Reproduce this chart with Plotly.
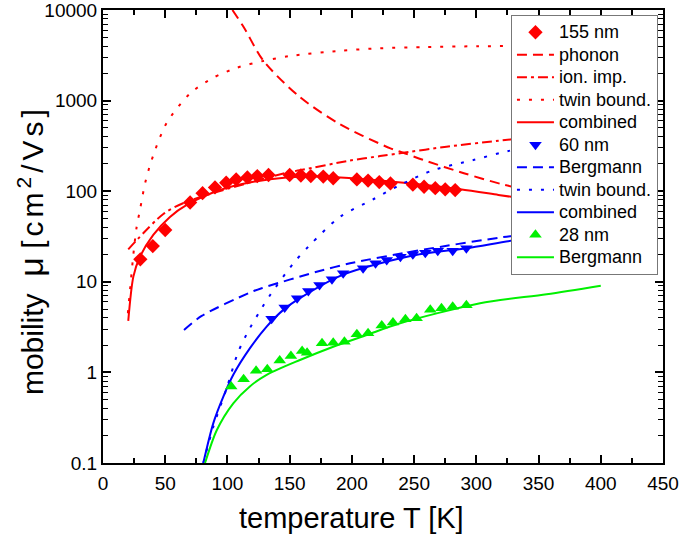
import plotly.graph_objects as go

# ---------------- data ----------------
# 155 nm sample (red diamonds)
T155 = [30, 40, 50, 70, 80, 90, 99, 107, 116, 124, 133, 150, 159, 167, 177, 185,
        204, 213, 222, 231, 249, 258, 267, 275, 283]
mu155 = [17.7, 24.8, 37.3, 75, 95, 110, 124, 135, 142, 147, 151, 151, 149, 147, 145, 139,
         135, 131, 126, 122, 118, 112, 108, 105, 103]

# 60 nm sample (blue down triangles)
T60 = [135.5, 146, 156, 165, 174, 184, 193, 209, 219, 228, 239, 249, 259, 269, 281, 292]
mu60 = [3.9, 5.2, 6.6, 7.9, 9.2, 10.7, 12.4, 14.1, 16.0, 17.4, 18.9, 20.1, 20.9, 22.0, 22.0, 23.4]

# 28 nm sample (green up triangles)
T28 = [103, 113, 123, 132, 142, 151, 160, 164, 176, 185, 194, 204, 213, 224, 233, 243,
       252, 263, 272, 281, 292]
mu28 = [0.70, 0.84, 1.04, 1.08, 1.35, 1.52, 1.72, 1.65, 2.1, 2.13, 2.18, 2.63, 2.7, 3.3, 3.55, 3.85,
        3.95, 4.9, 5.1, 5.3, 5.5]

# red model curves (155 nm)
T_phon = [104, 113, 129, 158, 190, 231, 239, 257, 290, 320, 340]
mu_phon = [10000, 6500, 2740, 1100, 552, 297, 273, 222, 158, 120, 104]

T_ion = [20.3, 48.5, 67.3, 147.6, 158, 198.5, 222.6, 238.7, 276, 317.6, 340]
mu_ion = [22.8, 56, 76.6, 160, 170, 218, 244, 262, 310, 360, 390]

T_twin_r = [20, 22, 24.4, 27, 29.7, 33.8, 39.1, 51, 70, 88.6, 107.4, 128.8, 150, 190.5, 222.6, 260, 300, 340]
mu_twin_r = [4.5, 9, 20, 40, 62, 122, 221, 562, 1200, 1790, 2300, 2740, 3100, 3550, 3780, 3900, 3980, 4000]

T_comb_r = [20.3, 24.4, 29.7, 40.4, 53.8, 67.3, 94, 120.8, 147.6, 174.4, 233, 287, 317.7, 340]
mu_comb_r = [3.7, 11.4, 18.9, 32.9, 52, 70.5, 103, 127, 142, 145, 127, 105, 91, 82]

# blue model curves (60 nm)
T_berg_b = [65.1, 79.3, 118, 127.5, 171.7, 198.5, 252, 324.4, 340]
mu_berg_b = [2.94, 4.2, 7.6, 8.5, 12.9, 16, 22, 31.5, 33]

T_twin_b = [80.6, 88.6, 99.4, 108.7, 118, 127.5, 134.2, 153, 166.3, 190.4, 217.2, 238.7, 265.4, 297.6, 325.7, 340]
mu_twin_b = [0.1, 0.25, 0.67, 1.69, 3.07, 5.1, 7.1, 16, 25.5, 52, 81.5, 117, 171, 221, 278, 300]

T_comb_b = [80.6, 88.6, 96.7, 104.7, 118.1, 131.5, 144.9, 158.3, 193, 249, 292, 332, 340]
mu_comb_b = [0.1, 0.274, 0.54, 0.94, 1.85, 3.2, 4.9, 6.6, 12.0, 19.5, 23.5, 28.9, 29.5]

# green model curve (28 nm)
T_berg_g = [82, 91.4, 104.7, 118, 131.5, 158.3, 185, 211.9, 238.7, 303, 356.5, 400]
mu_berg_g = [0.1, 0.23, 0.456, 0.70, 0.94, 1.37, 1.92, 2.59, 3.48, 5.8, 7.3, 9.06]

y_tickvals = [0.1, 1, 10, 100, 1000, 10000]
y_ticktext = ["0.1", "1", "10", "100", "1000", "10000"]

RED, BLUE, GREEN = "#FF0000", "#0000FF", "#00F000"
DASH = "10px,6px"
DASHDOT = "10px,4px,3px,4px"
DOT = "3px,9px"


def lg(name):
    # legend label drawn a little larger than the legend row pitch font
    return "<span style='font-size:18px'>" + name + "</span>"


fig = go.Figure()


def line(x, y, name, color, dash, rank):
    fig.add_trace(go.Scatter(x=x, y=y, mode="lines", name=lg(name), legendrank=rank,
                             line=dict(color=color, width=2, dash=dash, shape="spline", smoothing=0.8)))


line(T_phon, mu_phon, "phonon", RED, DASH, 2)
line(T_ion, mu_ion, "ion. imp.", RED, DASHDOT, 3)
line(T_twin_r, mu_twin_r, "twin bound.", RED, DOT, 4)
line(T_comb_r, mu_comb_r, "combined", RED, "solid", 5)
line(T_berg_b, mu_berg_b, "Bergmann", BLUE, DASH, 7)
line(T_twin_b, mu_twin_b, "twin bound.", BLUE, DOT, 8)
line(T_comb_b, mu_comb_b, "combined", BLUE, "solid", 9)
line(T_berg_g, mu_berg_g, "Bergmann", GREEN, "solid", 11)

fig.add_trace(go.Scatter(x=T155, y=mu155, mode="markers", name=lg("155 nm"), legendrank=1,
                         marker=dict(symbol="diamond", size=11, color=RED, line=dict(width=0))))
fig.add_trace(go.Scatter(x=T60, y=mu60, mode="markers", name=lg("60 nm"), legendrank=6,
                         marker=dict(symbol="triangle-down", size=11, color=BLUE, line=dict(width=0))))
fig.add_trace(go.Scatter(x=T28, y=mu28, mode="markers", name=lg("28 nm"), legendrank=10,
                         marker=dict(symbol="triangle-up", size=11, color=GREEN, line=dict(width=0))))

minor_y = [m * 10 ** e for e in range(-1, 4) for m in range(2, 10)]

fig.update_layout(
    width=685, height=540,
    margin=dict(l=103, r=22, t=10, b=77, autoexpand=False),
    paper_bgcolor="white", plot_bgcolor="white",
    font=dict(family="Arial, Liberation Sans, sans-serif", color="black"),
    showlegend=True,
    legend=dict(x=0.991, y=0.989, xanchor="right", yanchor="top",
                bgcolor="white", bordercolor="#777777", borderwidth=1,
                font=dict(size=15), tracegroupgap=0, itemwidth=37),
    xaxis=dict(range=[0, 450], dtick=50, tick0=0, showgrid=False, zeroline=False,
               automargin=False, ticklabeloverflow="allow",
               showline=True, linecolor="black", linewidth=2, mirror="ticks",
               ticks="inside", ticklen=8, tickwidth=1.5, tickcolor="black",
               minor=dict(ticks="inside", ticklen=5, dtick=25, tickcolor="black", tickwidth=1.5),
               tickfont=dict(size=19), ticklabelstandoff=2),
    yaxis=dict(type="log", range=[-1, 4], showgrid=False, zeroline=False,
               automargin=False, ticklabeloverflow="allow",
               tickmode="array", tickvals=y_tickvals, ticktext=y_ticktext,
               showline=True, linecolor="black", linewidth=2, mirror="ticks",
               ticks="inside", ticklen=8, tickwidth=1.5, tickcolor="black",
               minor=dict(ticks="inside", ticklen=5, tickmode="array", tickvals=minor_y,
                          tickcolor="black", tickwidth=1),
               tickfont=dict(size=19), ticklabelstandoff=0),
    annotations=[
        dict(text="temperature T [K]", xref="paper", yref="paper", x=0.443, y=-0.121,
             xanchor="center", yanchor="middle", showarrow=False, font=dict(size=29)),
        dict(text="mobility&nbsp;&nbsp;<span style='font-size:34px'>\u03bc</span>&nbsp;"
                  "<span style='letter-spacing:4px'>[cm<sup>2</sup>/Vs]</span>",
             xref="paper", yref="paper",
             x=-0.1286, y=0.47, xanchor="center", yanchor="middle", textangle=-90,
             showarrow=False, font=dict(size=30)),
    ],
)

# remove the default 8 px body margin so the figure fills the window exactly
fig.write_html("out.html", config={"displayModeBar": False},
               post_script="document.body.style.margin='0px';")
